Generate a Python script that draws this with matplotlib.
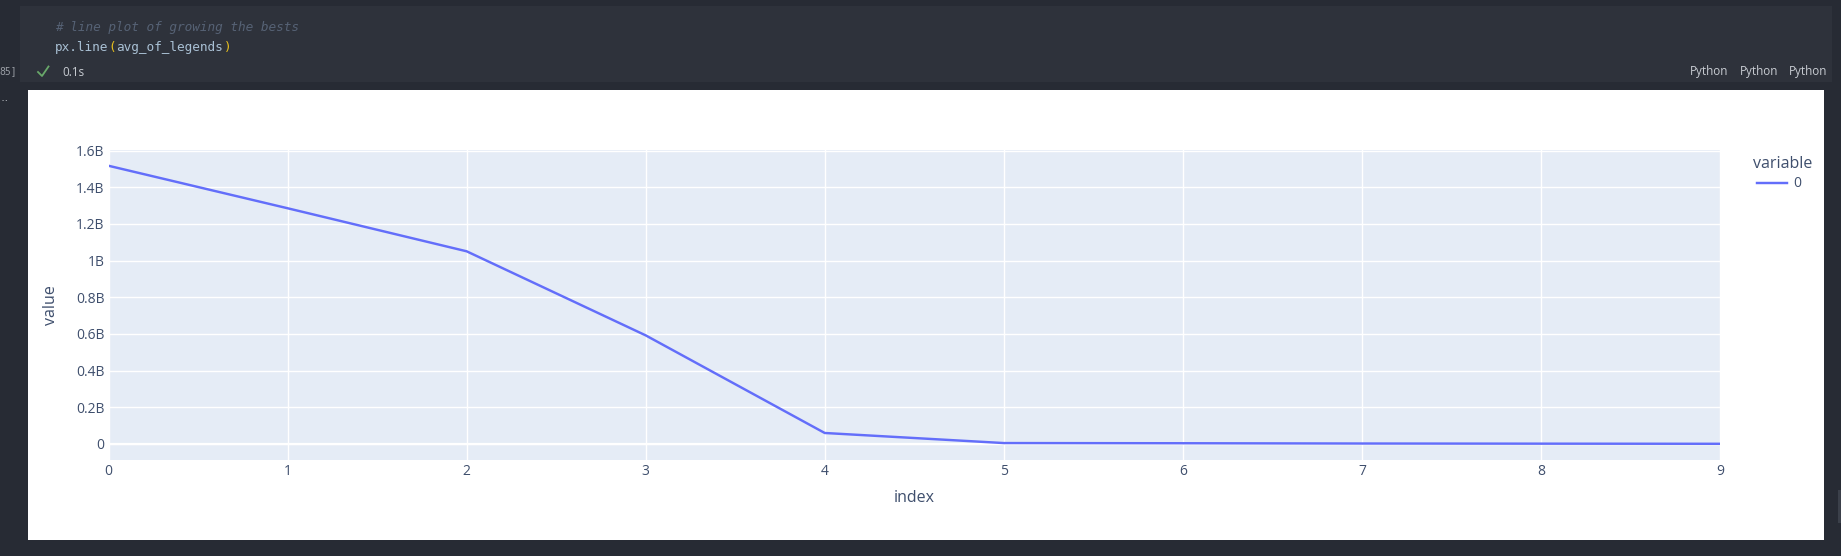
import matplotlib
matplotlib.use("Agg")
import matplotlib.pyplot as plt
from matplotlib.patches import Rectangle
from matplotlib.ticker import FixedLocator, FixedFormatter

# ---- data ----
index_values = [0, 1, 2, 3, 4, 5, 6, 7, 8, 9]
series_0 = [1.518e9, 1.286e9, 1.051e9, 0.592e9, 0.059e9, 0.004e9, 0.003e9, 0.0015e9, 0.0007e9, 0.0]
y_ticks = [0, 0.2e9, 0.4e9, 0.6e9, 0.8e9, 1.0e9, 1.2e9, 1.4e9, 1.6e9]
y_tick_labels = ["0", "0.2B", "0.4B", "0.6B", "0.8B", "1B", "1.2B", "1.4B", "1.6B"]
legend_title = "variable"
legend_label = "0"
comment_line = "# line plot of growing the bests"

W, H = 1841, 556
BG = "#272b34"
CELL = "#2e323b"
PLOT_BG = "#e5ecf6"
LINE = "#636efa"
INK = "#3f4f6d"
FONT = ["Open Sans", "DejaVu Sans"]
MONO = ["DejaVu Sans Mono"]

fig = plt.figure(figsize=(W / 100, H / 100), dpi=100, facecolor=BG)


def fx(px):
    return px / W


def fy(py):
    return 1 - py / H


def panel(x0, y0, x1, y1, color):
    fig.patches.append(Rectangle((fx(x0), fy(y1)), (x1 - x0) / W, (y1 - y0) / H,
                                 transform=fig.transFigure, facecolor=color,
                                 edgecolor="none", zorder=-5))


def label(px, py, s, **kw):
    kw.setdefault("va", "center")
    kw.setdefault("ha", "left")
    fig.text(fx(px), fy(py), s, **kw)


# notebook chrome
panel(20, 6, 1832, 82, CELL)
panel(28, 90, 1824, 540, "white")
panel(1838, 490, 1841, 523, "#3b404a")

CHAR = 7.68
code_x = 55
label(code_x, 28, comment_line, family=MONO, style="italic", fontsize=9.2, color="#566275")
label(code_x, 47, "px.line", family=MONO, fontsize=9.2, color="#a9c0d4")
label(code_x + 7 * CHAR, 47, "(", family=MONO, fontsize=9.2, color="#e8c01e")
label(code_x + 8 * CHAR, 47, "avg_of_legends", family=MONO, fontsize=9.2, color="#a9c0d4")
label(code_x + 22 * CHAR, 47, ")", family=MONO, fontsize=9.2, color="#e8c01e")
label(62, 72, "0.1s", family=FONT, fontsize=8.4, color="#c8ccd2")
label(-1, 71, "85]", family=MONO, fontsize=7, color="#9a9ea5")
label(1, 99, "..", family=MONO, fontsize=5, color="#c8ccd2", fontweight="bold")
for px in (1690, 1740, 1789):
    label(px, 72, "Python", family=FONT, fontsize=8.4, color="#c8ccd2")
fig.add_artist(plt.Line2D([fx(38), fx(42), fx(48.5)], [fy(72), fy(76), fy(66.5)],
                          color="#69a86a", lw=1.3))

# plot area
left, right, top, bottom = 108.5, 1720, 150, 460
ax = fig.add_axes([fx(left), fy(bottom), (right - left) / W, (bottom - top) / H], facecolor=PLOT_BG)
ax.plot(index_values, series_0, color=LINE, lw=1.75, solid_joinstyle="round", zorder=3, clip_on=True)

ax.set_xlim(0, 9)
ax.set_ylim(-0.0885e9, 1.604e9)
ax.xaxis.set_major_locator(FixedLocator(index_values))
ax.set_xticklabels([str(i) for i in index_values])
ax.yaxis.set_major_locator(FixedLocator(y_ticks))
ax.yaxis.set_major_formatter(FixedFormatter(y_tick_labels))
ax.grid(True, color="white", lw=1.0, zorder=1)
ax.set_axisbelow(True)
ax.axhline(0, color="white", lw=1.6, zorder=2)
for s in ax.spines.values():
    s.set_visible(False)
ax.tick_params(axis="both", length=0, labelsize=10, labelcolor=INK)
ax.tick_params(axis="x", pad=3)
ax.tick_params(axis="y", pad=3)
for t in ax.get_xticklabels() + ax.get_yticklabels():
    t.set_fontfamily(FONT)

label(914, 497.5, "index", family=FONT, fontsize=11.5, color=INK, ha="center")
label(51, 305, "value", family=FONT, fontsize=11.5, color=INK, ha="center", rotation=90)

# legend
label(1783, 164.5, legend_title, family=FONT, fontsize=11.5, color=INK, ha="center")
leg_handle = plt.Line2D([fx(1757), fx(1787)], [fy(183), fy(183)], color=LINE, lw=1.75)
fig.add_artist(leg_handle)
label(1793, 183.5, legend_label, family=FONT, fontsize=10, color=INK)

fig.savefig("out.png", dpi=100, facecolor=BG)
